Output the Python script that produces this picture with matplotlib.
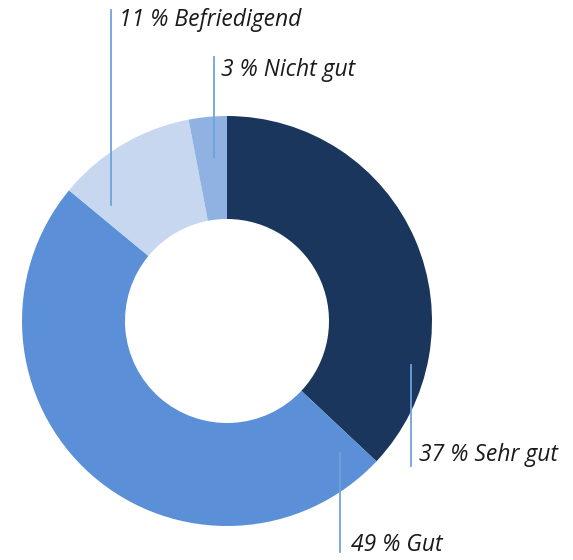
import matplotlib.pyplot as plt

# Bewertung data
labels = ['Sehr gut', 'Gut', 'Befriedigend', 'Nicht gut']
shares = [37, 49, 11, 3]
colors = ['#1a365d', '#5b8fd8', '#c6d7ef', '#8fb2e3']

W, H = 573, 560
fig = plt.figure(figsize=(W / 100, H / 100), dpi=100)
ax = fig.add_axes([0, 0, 1, 1])

# donut, clockwise from 12 o'clock
cx, cy = 227, H - 321
ax.pie(shares, colors=colors, startangle=90, counterclock=False,
       center=(cx, cy), radius=205, frame=True,
       wedgeprops=dict(width=103, linewidth=0))
ax.set_xlim(0, W)
ax.set_ylim(0, H)
ax.set_aspect('equal')
ax.axis('off')

# leader lines (x, y_top, y_bottom) and label anchor in pixel coords
callouts = [
    (411, 365, 466, 419, 455),
    (340, 453, 552, 351, 545),
    (111, 10, 205, 119, 20),
    (214, 57, 157, 221, 70),
]
for (lx, y0, y1, tx, ty), lab, val in zip(callouts, labels, shares):
    ax.plot([lx, lx], [H - y0, H - y1], color='#6fa1dc', lw=1.3)
    ax.text(tx, H - ty, f'{val} % {lab}', fontsize=16.5, style='italic',
            family='Open Sans', color='#1a1a1a', ha='left', va='center')

fig.savefig('out.png', dpi=100)
